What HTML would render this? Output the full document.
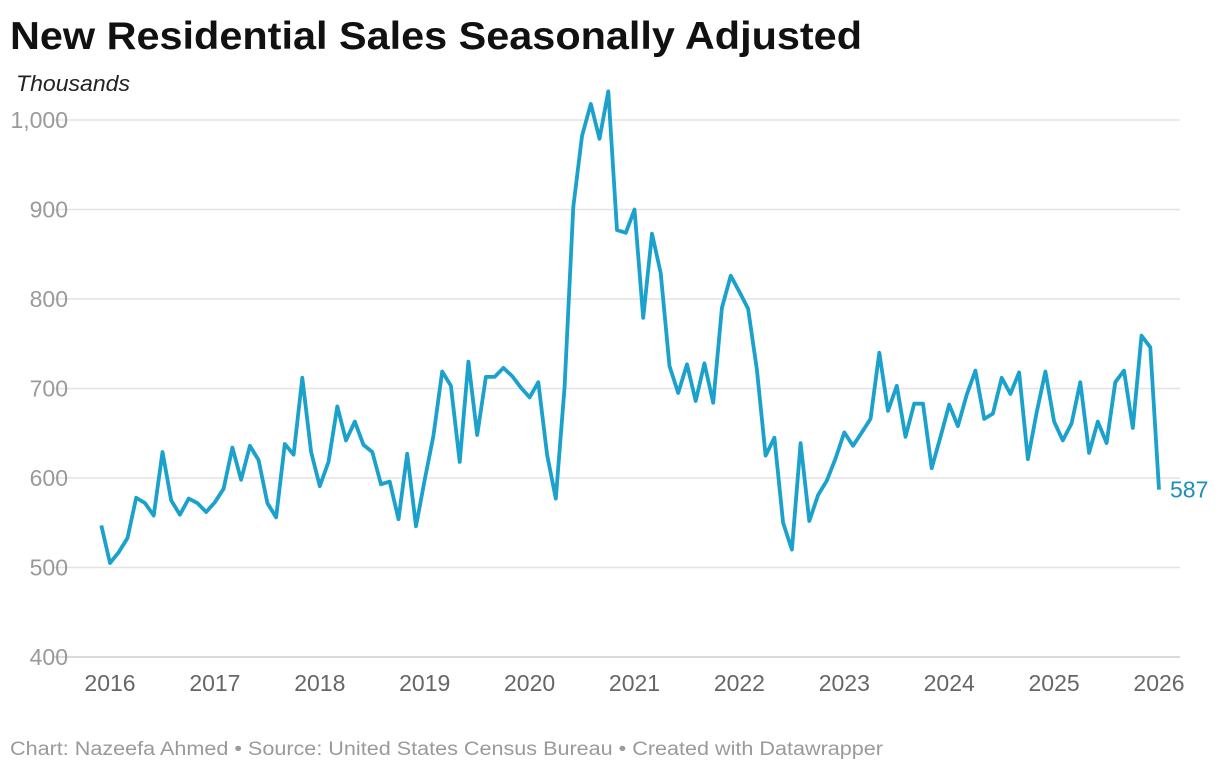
<!DOCTYPE html>
<html><head><meta charset="utf-8"><style>
body{margin:0;background:#fff;width:1220px;height:774px;overflow:hidden;font-family:"Liberation Sans",sans-serif}
</style></head><body>
<svg width="1220" height="774">
<text x="10" y="49" font-size="39" font-weight="bold" fill="#111" textLength="852" lengthAdjust="spacingAndGlyphs">New Residential Sales Seasonally Adjusted</text>
<text x="16" y="91" font-size="22" font-style="italic" fill="#222" textLength="114" lengthAdjust="spacingAndGlyphs">Thousands</text>
<g id="grid"></g><g id="xt"></g>
<path id="line" fill="none" stroke="#1aa1cc" stroke-width="3.8" stroke-linejoin="round"/>
<text id="lastlbl" font-size="23" fill="#1a8fb8"></text>
<text x="10" y="755" font-size="19" fill="#9a9a9a" textLength="873" lengthAdjust="spacingAndGlyphs">Chart: Nazeefa Ahmed • Source: United States Census Bureau • Created with Datawrapper</text>
</svg>
<script>
const yTicks=[400,500,600,700,800,900,1000];
const yTickLabels=["400","500","600","700","800","900","1,000"];
const xTickYears=[2016,2017,2018,2019,2020,2021,2022,2023,2024,2025,2026];
const startMonthOffset=-1; // first point: Dec 2015
const sales=[547,505,517,533,578,572,558,629,575,559,577,572,562,573,588,634,598,636,620,572,556,638,626,712,629,591,618,680,642,663,637,629,593,596,554,627,546,598,647,719,703,618,730,648,713,713,723,714,701,690,707,626,577,702,903,982,1018,979,1032,877,874,900,779,873,829,725,695,727,686,728,684,790,826,808,789,721,625,645,550,520,639,552,581,597,622,651,636,651,666,740,675,703,646,683,683,611,646,682,658,693,720,666,672,712,694,718,621,673,719,663,642,661,707,628,663,639,707,720,656,759,746,587];
const NS="http://www.w3.org/2000/svg";
function y(v){return 657-(v-400)*537/600;}
function x(m){return 110+m*104.9/12;}
const grid=document.getElementById('grid');
yTicks.forEach((t,i)=>{
 const l=document.createElementNS(NS,'line');
 l.setAttribute('x1',52);l.setAttribute('x2',1180);l.setAttribute('y1',y(t));l.setAttribute('y2',y(t));
 l.setAttribute('stroke',t===400?'#cfcfcf':'#e3e3e3');l.setAttribute('stroke-width',1.5);
 
 
 grid.appendChild(l);
 const tx=document.createElementNS(NS,'text');
 tx.setAttribute('x',68);tx.setAttribute('y',y(t)+8);tx.setAttribute('text-anchor','end');
 tx.setAttribute('font-size',23);tx.setAttribute('fill','#9a9a9a');tx.textContent=yTickLabels[i];
 
 
 grid.appendChild(tx);
});
const xt=document.getElementById('xt');
xTickYears.forEach(yr=>{
 const px=x((yr-2016)*12);
 const tx=document.createElementNS(NS,'text');
 tx.setAttribute('x',px);tx.setAttribute('y',691);tx.setAttribute('text-anchor','middle');
 tx.setAttribute('font-size',23);tx.setAttribute('fill','#666');tx.textContent=yr;
 
 
 xt.appendChild(tx);
});
let d='';
sales.forEach((v,i)=>{d+=(i?'L':'M')+x(i+startMonthOffset).toFixed(1)+','+y(v).toFixed(1);});
document.getElementById('line').setAttribute('d',d);
const last=sales.length-1;
const lb=document.getElementById('lastlbl');
lb.setAttribute('x',x(last+startMonthOffset)+11);lb.setAttribute('y',y(sales[last])+8);
lb.textContent=sales[last];
</script>
</body></html>
